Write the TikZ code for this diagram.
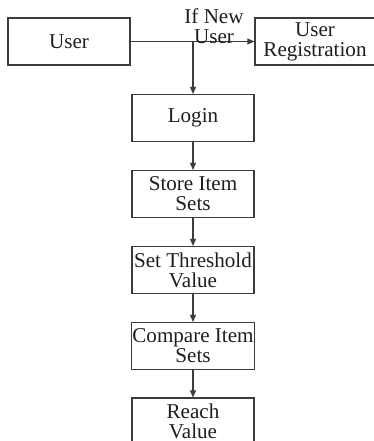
\documentclass[tikz,border=0pt]{standalone}
\usepackage{fontspec}
\setmainfont{Liberation Serif}
\usetikzlibrary{arrows.meta, positioning}
\definecolor{linecol}{RGB}{60,60,60}
\definecolor{txtcol}{RGB}{30,30,30}

\begin{document}
\begin{tikzpicture}[x=0.03cm, y=-0.03cm,
    stepbox/.style={draw=linecol, line width=0.9pt, minimum width=3.66cm,
      minimum height=1.41cm, inner sep=1pt, align=center, text=txtcol,
      font=\fontsize{18}{17}\selectfont},
    flow/.style={draw=linecol, line width=0.9pt, -{Triangle[length=6pt, width=5pt]}}]

  \useasboundingbox (0,0) rectangle (374,441);

  % Boxes
  \node[stepbox] (user)    at (69, 41.5)   {User};
  \node[stepbox, minimum width=3.6cm] (reg) at (315, 41.5) {User\\Registration};
  \node[stepbox] (login)   at (193, 118)   {Login};
  \node[stepbox] (store)   at (193, 194)   {Store Item\\Sets};
  \node[stepbox] (thresh)  at (193, 270)   {Set Threshold\\Value};
  \node[stepbox] (compare) at (193, 346)   {Compare Item\\Sets};
  \node[stepbox] (reach)   at (193, 421.5) {Reach\\Value};

  % Split point
  \coordinate (split) at (login.north |- user.east);

  % Connectors
  \draw[draw=linecol, line width=0.9pt] (user.east) -- (split);
  \draw[flow] (split) -- (reg.west);
  \draw[flow] (split) -- (login.north);
  \draw[flow] (login) -- (store);
  \draw[flow] (store) -- (thresh);
  \draw[flow] (thresh) -- (compare);
  \draw[flow] (compare) -- (reach);

  % Label
  \node[align=center, text=txtcol, inner sep=0pt,
    font=\fontsize{18}{17}\selectfont] (newlbl) at (214, 26) {If New\\User};

\end{tikzpicture}
\end{document}
